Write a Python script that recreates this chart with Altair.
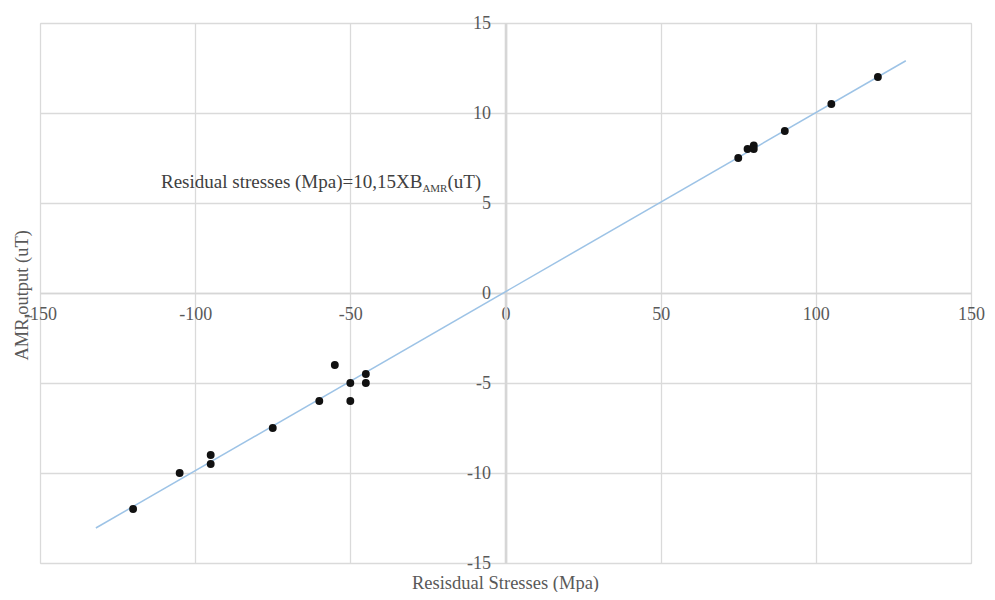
import altair as alt
import pandas as pd

# Data
stress = [-120, -105, -95, -95, -75, -60, -55, -50, -50, -45, -45,
          75, 78, 80, 80, 90, 105, 120]
amr = [-12, -10, -9, -9.5, -7.5, -6, -4, -5, -6, -4.5, -5,
       7.5, 8, 8.2, 8, 9, 10.5, 12]
trend_extent = [-132, 129]
x_ticks = [-150, -100, -50, 0, 50, 100, 150]
y_ticks = [-15, -10, -5, 0, 5, 10, 15]

x_title = "Resisdual Stresses (Mpa)"
y_title_main = "AMR"
y_title_sub = "I"
y_title_rest = " output (uT)"
note_main = "Residual stresses (Mpa)=10,15XB"
note_sub = "AMR"
note_rest = "(uT)"

W, H = 931, 540
FONT = "Liberation Serif"
GRAY = "#595959"

df = pd.DataFrame({"x": stress, "y": amr})
one = pd.DataFrame({"k": [0]})

xscale = alt.Scale(domain=[-150, 150], nice=False, zero=False)
yscale = alt.Scale(domain=[-15, 15], nice=False, zero=False)

xaxis = alt.Axis(values=x_ticks, title=None, offset=-H / 2, ticks=False,
                 labelFlush=False, labelOverlap=False, labelPadding=12,
                 labelExpr="'' + datum.value",
                 labelFont=FONT, labelFontSize=18, labelColor=GRAY,
                 domainColor="#d6d6d6", domainWidth=1.6,
                 grid=True, gridColor="#dadada", gridWidth=1.3)
yaxis = alt.Axis(values=y_ticks, title=None, offset=-W / 2, ticks=False,
                 labelFlush=False, labelOverlap=False, labelPadding=15,
                 labelExpr="'' + datum.value",
                 labelFont=FONT, labelFontSize=18, labelColor=GRAY,
                 domainColor="#d6d6d6", domainWidth=2.6,
                 grid=True, gridColor="#dadada", gridWidth=1.3)

points = alt.Chart(df).mark_point(filled=True, size=62, color="#111111", opacity=1).encode(
    x=alt.X("x:Q", scale=xscale, axis=xaxis),
    y=alt.Y("y:Q", scale=yscale, axis=yaxis),
)

trend = alt.Chart(df).transform_regression(
    "x", "y", extent=trend_extent
).mark_line(color="#9dc3e6", strokeWidth=1.5).encode(
    x=alt.X("x:Q", scale=xscale),
    y=alt.Y("y:Q", scale=yscale),
)

def txt(text, x, y, size=18.5, align="left", angle=0, color=GRAY):
    kw = dict(text=text, font=FONT, fontSize=size, align=align,
              baseline="alphabetic", color=color)
    if angle:
        kw["angle"] = angle
    return alt.Chart(one).mark_text(**kw).encode(x=alt.value(x), y=alt.value(y))

# x title
t_x = txt(x_title, W / 2, 566, align="center")

# y title (rotated), pieces with a subscript
cy = H / 2
main_len = 2.278 * 18.5
sub_len = 0.333 * 11
rest_len = 4.833 * 18.5
half = (main_len + sub_len + rest_len) / 2
a0 = cy + half - main_len
t_y1 = txt(y_title_main, -12, a0, align="right", angle=270)
t_y2 = txt(y_title_sub, -8, a0, size=11, align="left", angle=270)
t_y3 = txt(y_title_rest, -12, a0 - sub_len, align="left", angle=270)

# annotation
NOTE = "#404040"
nx, ny = 121, 165
main_w = 13.757 * 19
t_n1 = txt(note_main, nx, ny, size=19, color=NOTE)
t_n2 = txt(note_sub, nx + main_w, ny + 4, size=11, color=NOTE)
t_n3 = txt(note_rest, nx + main_w + 2.278 * 11, ny, size=19, color=NOTE)

chart = alt.layer(
    trend, points, t_x, t_y1, t_y2, t_y3, t_n1, t_n2, t_n3
).properties(
    width=W, height=H,
    autosize=alt.AutoSizeParams(type="none"),
    padding={"left": 32, "top": 15, "right": 16, "bottom": 29},
).configure_view(stroke=None).configure(background="white")

chart.save("out.html", embed_options={"renderer": "svg", "actions": False})
